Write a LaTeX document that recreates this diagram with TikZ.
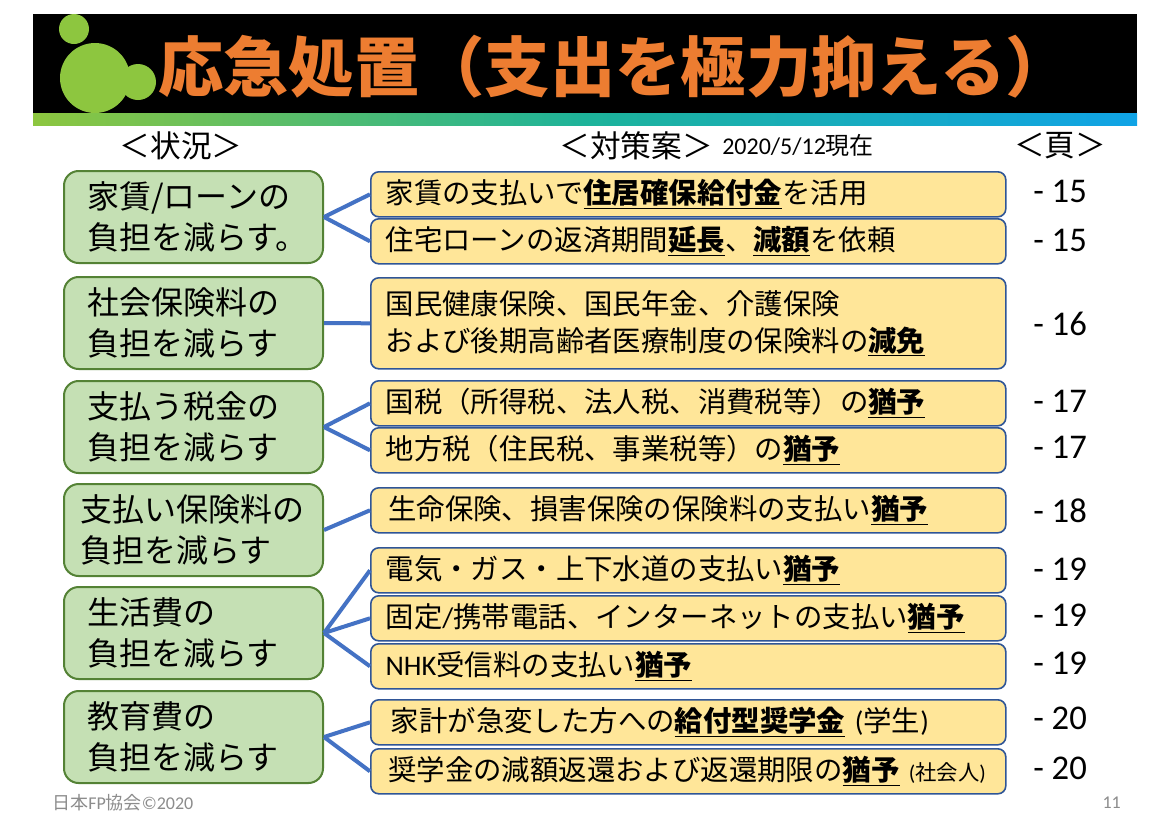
\documentclass[tikz,border=0pt]{standalone}
\usepackage{fontspec}
\setmainfont{Carlito}
\newfontfamily\jp{Noto Sans CJK JP}
\newfontfamily\lat{Carlito}
\definecolor{lgfill}{HTML}{C5E0B4}
\definecolor{lgborder}{HTML}{548235}
\definecolor{yfill}{HTML}{FFE699}
\definecolor{yborder}{HTML}{2F5597}
\definecolor{connblue}{HTML}{4472C4}
\definecolor{titleorange}{HTML}{ED7D31}
\definecolor{logogreen}{HTML}{8DC63F}
\definecolor{hgreen}{HTML}{8DC63F}
\definecolor{hteal}{HTML}{1DB39A}
\definecolor{hblue}{HTML}{10A3E6}
\definecolor{footgray}{HTML}{8C8C8C}
\begin{document}
\begin{tikzpicture}[x=0.75pt,y=-0.75pt,
  leftbox/.style={draw=lgborder, fill=lgfill, line width=1.5pt, rounded corners=11pt,
    minimum width=194.25pt, minimum height=69pt, anchor=north west, inner sep=0pt},
  lefttext/.style={anchor=west, align=left, inner sep=0pt,
    font=\jp\fontsize{24}{31}\selectfont},
  rightbox/.style={draw=yborder, fill=yfill, line width=1.2pt, rounded corners=6pt,
    minimum width=476.25pt, minimum height=33.75pt, anchor=north west,
    text width=454pt, inner xsep=11pt, inner ysep=0pt, align=left,
    font=\jp\fontsize{21.3}{27.75}\selectfont},
  conn/.style={draw=connblue, line width=3pt},
  pnum/.style={anchor=west, inner sep=0pt, font=\lat\fontsize{26}{26}\selectfont},
  subhead/.style={inner sep=0pt, font=\jp\fontsize{23}{23}\selectfont},
  foot/.style={inner sep=0pt, text=footgray, font=\fontsize{13.5}{13.5}\selectfont}
]
\useasboundingbox (0,0) rectangle (1170,826);
\fill[white] (0,0) rectangle (1170,826);
% header bar
\fill[black] (33,14) rectangle (1137,113);
\begin{scope}
\clip (33,14) rectangle (1137,113);
\fill[logogreen] (74,29) circle [radius=11.25pt];
\fill[logogreen] (95,78) circle [radius=26.25pt];
\fill[logogreen] (138,82) circle [radius=13.5pt];
\end{scope}
\shade[left color=hgreen, right color=hblue, middle color=hteal] (33,113) rectangle (1137,125);
\node[anchor=west, inner sep=0pt, text=titleorange, font=\jp\bfseries\fontsize{49}{49}\selectfont] (title) at (158,67) {応急処置（支出を極力抑える）};
% sub headings
\node[subhead] (hsit) at (181,146) {＜状況＞};
\node[subhead] (hmeas) at (636,146) {＜対策案＞};
\node[anchor=west, inner sep=0pt, font=\fontsize{18}{18}\selectfont] (hdate) at (722,145) {\lat 2020/5/12\jp 現在};
\node[subhead] (hpage) at (1060,146) {＜頁＞};
% left boxes
\node[leftbox] (L1) at (63,170) {};
\node[lefttext] (L1t) at ([xshift=18pt]L1.west) {家賃/ローンの\\負担を減らす。};
\node[leftbox] (L2) at (63,276) {};
\node[lefttext] (L2t) at ([xshift=18pt]L2.west) {社会保険料の\\負担を減らす};
\node[leftbox] (L3) at (63,380) {};
\node[lefttext] (L3t) at ([xshift=18pt]L3.west) {支払う税金の\\負担を減らす};
\node[leftbox] (L4) at (63,483) {};
\node[lefttext] (L4t) at ([xshift=12.75pt]L4.west) {支払い保険料の\\負担を減らす};
\node[leftbox] (L5) at (63,586) {};
\node[lefttext] (L5t) at ([xshift=18pt]L5.west) {生活費の\\負担を減らす};
\node[leftbox] (L6) at (63,690) {};
\node[lefttext] (L6t) at ([xshift=18pt]L6.west) {教育費の\\負担を減らす};
% right boxes
\node[rightbox] (R1) at (370,171) {家賃の支払いで\underline{\bfseries 住居確保給付金}を活用};
\node[rightbox] (R2) at (370,218) {住宅ローンの返済期間\underline{\bfseries 延長}、\underline{\bfseries 減額}を依頼};
\node[rightbox, minimum height=68.25pt] (R3) at (370,277) {国民健康保険、国民年金、介護保険\\および後期高齢者医療制度の保険料の\underline{\bfseries 減免}};
\node[rightbox] (R4) at (370,380) {国税（所得税、法人税、消費税等）の\underline{\bfseries 猶予}};
\node[rightbox] (R5) at (370,427) {地方税（住民税、事業税等）の\underline{\bfseries 猶予}};
\node[rightbox] (R6) at (370,487) {\hspace{2pt}生命保険、損害保険の保険料の支払い\underline{\bfseries 猶予}};
\node[rightbox] (R7) at (370,547) {電気・ガス・上下水道の支払い\underline{\bfseries 猶予}};
\node[rightbox] (R8) at (370,595) {固定{\lat /}携帯電話、インターネットの支払い\underline{\bfseries 猶予}};
\node[rightbox] (R9) at (370,643) {{\lat NHK}受信料の支払い\underline{\bfseries 猶予}};
\node[rightbox] (R10) at (370,699) {\hspace{4pt}家計が急変した方への\underline{\bfseries 給付型奨学金}{\lat\ (}学生{\lat )}};
\node[rightbox] (R11) at (370,748) {\hspace{2pt}奨学金の減額返還および返還期限の\underline{\bfseries 猶予}{\fontsize{16}{16}\selectfont{\lat\ (}社会人{\lat )}}};
% connectors
\draw[conn] (L1.east) -- (R1.west);
\draw[conn] (L1.east) -- (R2.west);
\draw[conn] (L2.east) -- (R3.west);
\draw[conn] (L3.east) -- (R4.west);
\draw[conn] (L3.east) -- (R5.west);
\draw[conn] (L4.east) -- (R6.west);
\draw[conn] (L5.east) -- (R7.west);
\draw[conn] (L5.east) -- (R8.west);
\draw[conn] (L5.east) -- (R9.west);
\draw[conn] (L6.east) -- (R10.west);
\draw[conn] (L6.east) -- (R11.west);
% page numbers
\node[pnum] (P1) at (1033,191) {- 15};
\node[pnum] (P2) at (1033,240) {- 15};
\node[pnum] (P3) at (1033,324) {- 16};
\node[pnum] (P4) at (1033,401) {- 17};
\node[pnum] (P5) at (1033,447) {- 17};
\node[pnum] (P6) at (1033,511) {- 18};
\node[pnum] (P7) at (1033,569) {- 19};
\node[pnum] (P8) at (1033,615) {- 19};
\node[pnum] (P9) at (1033,663) {- 19};
\node[pnum] (P10) at (1033,718) {- 20};
\node[pnum] (P11) at (1033,768) {- 20};
% footer
\node[foot, anchor=west] (copy) at (52,803) {{\jp 日本}FP{\jp 協会}©2020};
\node[foot, anchor=east] (slide) at (1121,803) {11};
\end{tikzpicture}
\end{document}
